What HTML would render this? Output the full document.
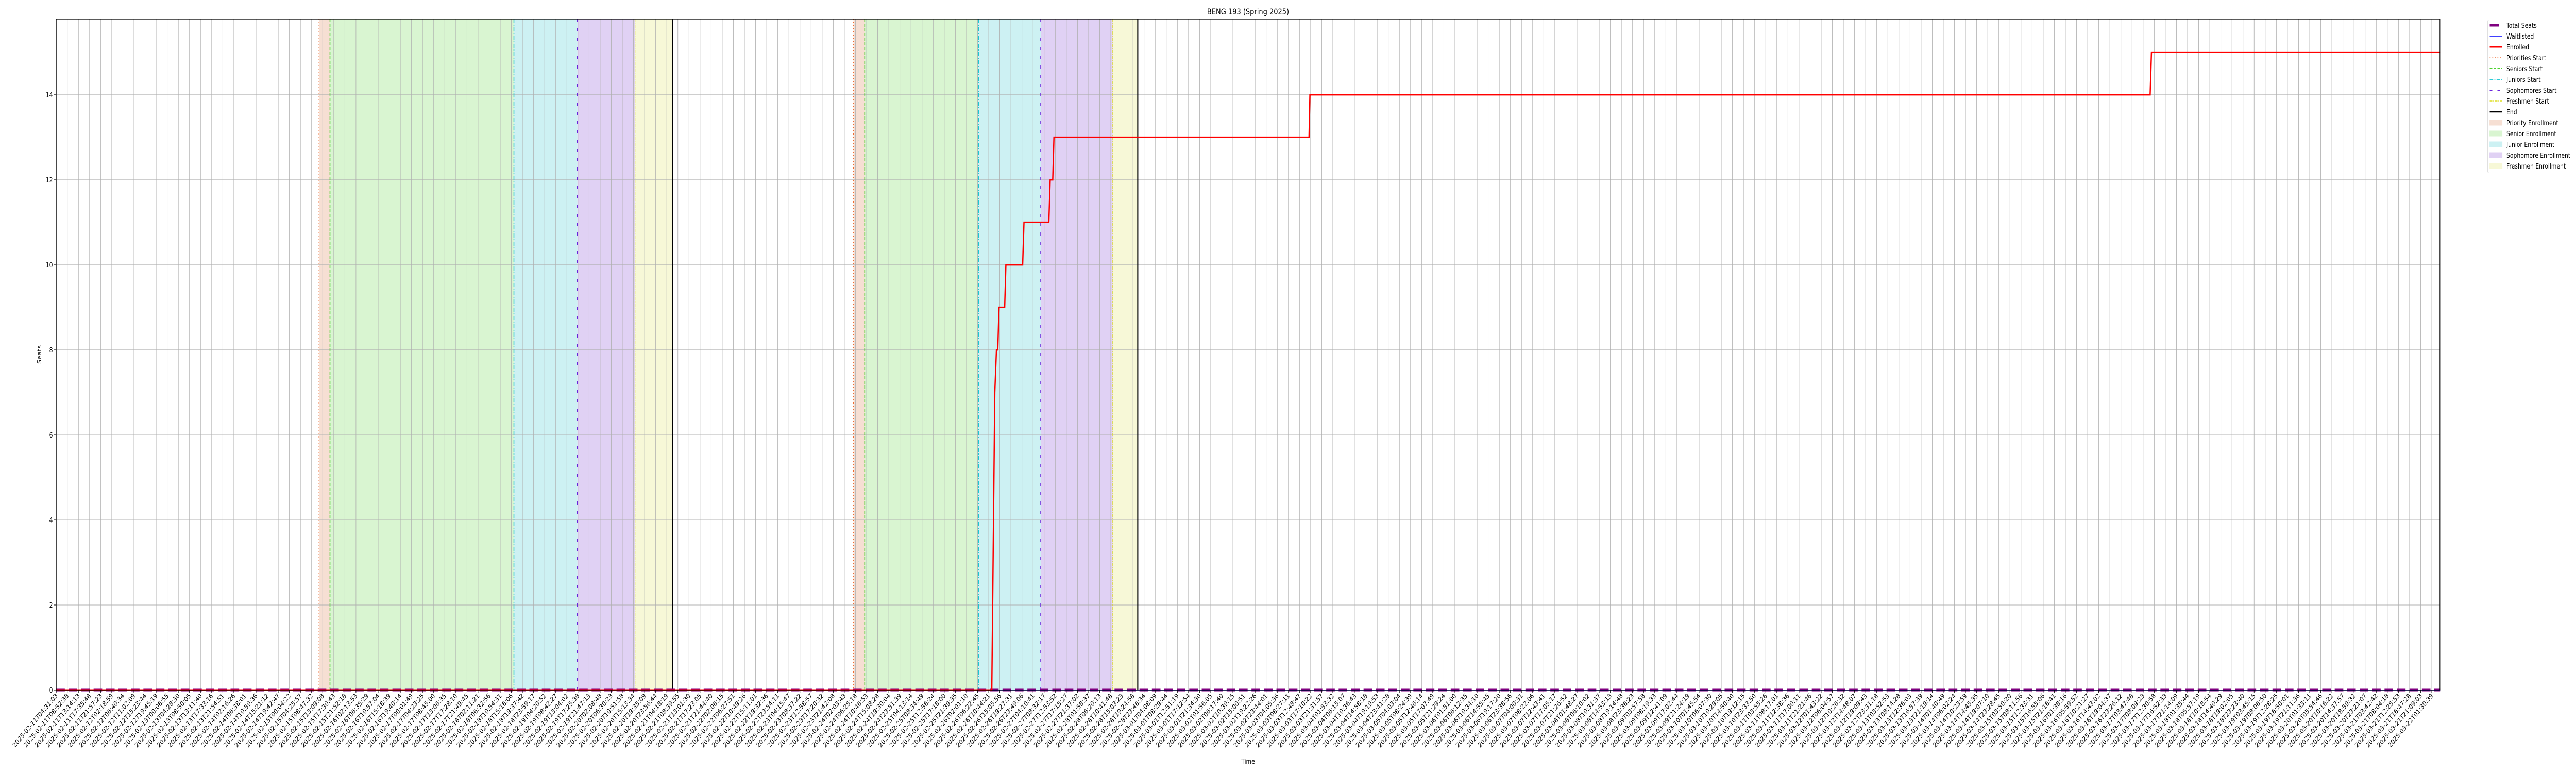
<!DOCTYPE html>
<html><head><meta charset="utf-8">
<style>
html,body{margin:0;padding:0;background:#fff;overflow:hidden;width:100%;height:100%;}
svg{display:block;font-family:"DejaVu Sans","Liberation Sans",sans-serif;width:100vw;height:100vh;}
</style></head>
<body>
<svg id="chart" viewBox="0 0 6000 1500" preserveAspectRatio="none" xmlns="http://www.w3.org/2000/svg">
<g id="spans"></g>
<g id="grid"></g>
<g id="vlines"></g>
<g id="series"></g>
<g id="axes"></g>
<text x="2907" y="28" text-anchor="middle" font-size="15.6">BENG 193 (Spring 2025)</text>
<text x="2907" y="1482" text-anchor="middle" font-size="13">Time</text>
<text transform="translate(96,688) rotate(-90)" text-anchor="middle" font-size="13">Seats</text>
<g id="legend"></g>
</svg>
<script>
// ---- data ----
const tickStart = "2025-02-11T04:31:03";
const tickEnd = "2025-03-22T01:30:39";
const tickCount = 215;
const yTicks = [0, 2, 4, 6, 8, 10, 12, 14];
const enrolledX = [0, 84.28, 84.55, 84.70, 84.82, 84.93, 85.44, 85.55, 87.06, 87.18, 89.42, 89.54, 89.77, 89.88, 112.86, 112.94, 188.63, 188.75, 214.75];
const enrolledY = [0, 0, 7, 8, 8, 9, 9, 10, 10, 11, 11, 12, 12, 13, 13, 14, 14, 15, 15];
const waitlistX = [0, 214.75];
const waitlistY = [0, 0];
const totalSeatsX = [0, 214.75];
const totalSeatsY = [0, 0];
const prioritiesStart = [23.67, 71.82];
const seniorsStart = [24.66, 72.83];
const juniorsStart = [41.23, 83.08];
const sophomoresStart = [46.95, 88.69];
const freshmenStart = [52.14, 95.18];
const endTimes = [55.54, 97.43];

// ---- axes ----
const L = 131, R = 5683, T = 37, B = 1339;
const yMax = 15.78;
const step = (5664 - L) / (tickCount - 1);
function X(i){ return L + i * step; }
function Y(v){ return B - v / yMax * (B - T); }
const NS = "http://www.w3.org/2000/svg";
function mk(tag, attrs, parent){
  const e = document.createElementNS(NS, tag);
  for (const k in attrs) e.setAttribute(k, attrs[k]);
  parent.appendChild(e); return e;
}
const spans = document.getElementById('spans');
const grid = document.getElementById('grid');
const vlines = document.getElementById('vlines');
const series = document.getElementById('series');
const axes = document.getElementById('axes');

const spanDefs = [
  [prioritiesStart, seniorsStart, '#f6dfd3', 'priority-enrollment-span'],
  [seniorsStart, juniorsStart, '#d9f5d1', 'senior-enrollment-span'],
  [juniorsStart, sophomoresStart, '#cdf1f3', 'junior-enrollment-span'],
  [sophomoresStart, freshmenStart, '#e0d1f4', 'sophomore-enrollment-span'],
  [freshmenStart, endTimes, '#f7f8d7', 'freshmen-enrollment-span']
];
spanDefs.forEach(d => {
  for (let k = 0; k < d[0].length; k++) {
    const r = mk('rect', {x: X(d[0][k]), y: T, width: X(d[1][k]) - X(d[0][k]), height: B - T, fill: d[2]}, spans);
    
    
  }
});

const t0 = Date.parse(tickStart + "Z"), t1 = Date.parse(tickEnd + "Z");
function pad(n){ return String(n).padStart(2, '0'); }
for (let i = 0; i < tickCount; i++) {
  const x = X(i);
  const g = mk('line', {x1: x, x2: x, y1: T, y2: B, stroke: '#b0b0b0', 'stroke-width': 1}, grid);
  
  
  mk('line', {x1: x, x2: x, y1: B, y2: B + 5, stroke: '#000', 'stroke-width': 1}, axes);
  const d = new Date(t0 + (t1 - t0) * i / (tickCount - 1));
  const s = d.getUTCFullYear() + '-' + pad(d.getUTCMonth() + 1) + '-' + pad(d.getUTCDate()) + 'T' + pad(d.getUTCHours()) + ':' + pad(d.getUTCMinutes()) + ':' + pad(d.getUTCSeconds());
  const t = mk('text', {transform: 'translate(' + (x + 4) + ',' + (B + 12) + ') rotate(-45)', 'text-anchor': 'end', 'font-size': 13}, axes);
  t.textContent = s;
  
  
}
yTicks.forEach(v => {
  const y = Y(v);
  const g = mk('line', {x1: L, x2: R, y1: y, y2: y, stroke: '#b0b0b0', 'stroke-width': 1}, grid);
  
  
  mk('line', {x1: L - 5, x2: L, y1: y, y2: y, stroke: '#000', 'stroke-width': 1}, axes);
  const t = mk('text', {x: L - 8, y: y + 5, 'text-anchor': 'end', 'font-size': 13}, axes);
  t.textContent = v;
  
  
});
const frame = mk('rect', {x: L, y: T, width: R - L, height: B - T, fill: 'none', stroke: '#000', 'stroke-width': 1.3}, axes);



const vDefs = [
  [prioritiesStart, '#ee6a30', '2,4', 1.5, 'priorities-start-line'],
  [seniorsStart, '#33cc11', '6,3', 1.8, 'seniors-start-line'],
  [juniorsStart, '#11c4d0', '8,3,2,3', 1.8, 'juniors-start-line'],
  [sophomoresStart, '#6a22dd', '6,12', 2, 'sophomores-start-line'],
  [freshmenStart, '#dddd22', '6,2,2,2', 1.5, 'freshmen-start-line'],
  [endTimes, '#000', '', 2.5, 'end-line']
];
vDefs.forEach(d => {
  d[0].forEach(v => {
    const a = {x1: X(v), x2: X(v), y1: T, y2: B, stroke: d[1], 'stroke-width': d[3]};
    if (d[2]) a['stroke-dasharray'] = d[2];
    const l = mk('line', a, vlines);
    
    
  });
});

function pts(xs, ys){ return xs.map((x, k) => X(x).toFixed(2) + ',' + Y(ys[k]).toFixed(2)).join(' '); }
const ts = mk('polyline', {points: pts(totalSeatsX, totalSeatsY), fill: 'none', stroke: '#800080', 'stroke-width': 5, 'stroke-dasharray': '20,9'}, series);


const wl = mk('polyline', {points: pts(waitlistX, waitlistY), fill: 'none', stroke: '#0000ff', 'stroke-width': 1.5}, series);


const en = mk('polyline', {points: pts(enrolledX, enrolledY), fill: 'none', stroke: '#ff0000', 'stroke-width': 3, 'stroke-linejoin': 'miter'}, series);



const lg = document.getElementById('legend');
const box = mk('rect', {x: 5794.5, y: 38.5, width: 230, height: 297, rx: 3, fill: '#fff', stroke: '#d0d0d0', 'stroke-width': 1}, lg);


const entries = [
  ['Total Seats', 'line', '#800080', 5, '', 'legend-total-seats'],
  ['Waitlisted', 'line', '#0000ff', 1.5, '', 'legend-waitlisted'],
  ['Enrolled', 'line', '#ff0000', 3, '', 'legend-enrolled'],
  ['Priorities Start', 'line', '#ee6a30', 1.5, '2,4', 'legend-priorities-start'],
  ['Seniors Start', 'line', '#33cc11', 1.8, '6,3', 'legend-seniors-start'],
  ['Juniors Start', 'line', '#11c4d0', 1.8, '8,3,2,3', 'legend-juniors-start'],
  ['Sophomores Start', 'line', '#6a22dd', 2, '6,12', 'legend-sophomores-start'],
  ['Freshmen Start', 'line', '#dddd22', 1.5, '6,2,2,2', 'legend-freshmen-start'],
  ['End', 'line', '#000', 2.5, '', 'legend-end'],
  ['Priority Enrollment', 'patch', '#f6dfd3', 0, '', 'legend-priority-enrollment'],
  ['Senior Enrollment', 'patch', '#d9f5d1', 0, '', 'legend-senior-enrollment'],
  ['Junior Enrollment', 'patch', '#cdf1f3', 0, '', 'legend-junior-enrollment'],
  ['Sophomore Enrollment', 'patch', '#e0d1f4', 0, '', 'legend-sophomore-enrollment'],
  ['Freshmen Enrollment', 'patch', '#f7f8d7', 0, '', 'legend-freshmen-enrollment']
];
entries.forEach((e, k) => {
  const cy = 49 + k * 21;
  const g = mk('g', {}, lg);
  
  
  if (e[1] === 'line') {
    const a = {x1: 5799, x2: e[0] === 'Total Seats' ? 5820 : 5828, y1: cy, y2: cy, stroke: e[2], 'stroke-width': e[3]};
    if (e[4]) a['stroke-dasharray'] = e[4];
    mk('line', a, g);
  } else {
    mk('rect', {x: 5799, y: cy - 5, width: 29, height: 10, fill: e[2], stroke: e[2]}, g);
  }
  const t = mk('text', {x: 5838, y: cy + 5, 'font-size': 13}, g);
  t.textContent = e[0];
});
</script>
</body></html>
